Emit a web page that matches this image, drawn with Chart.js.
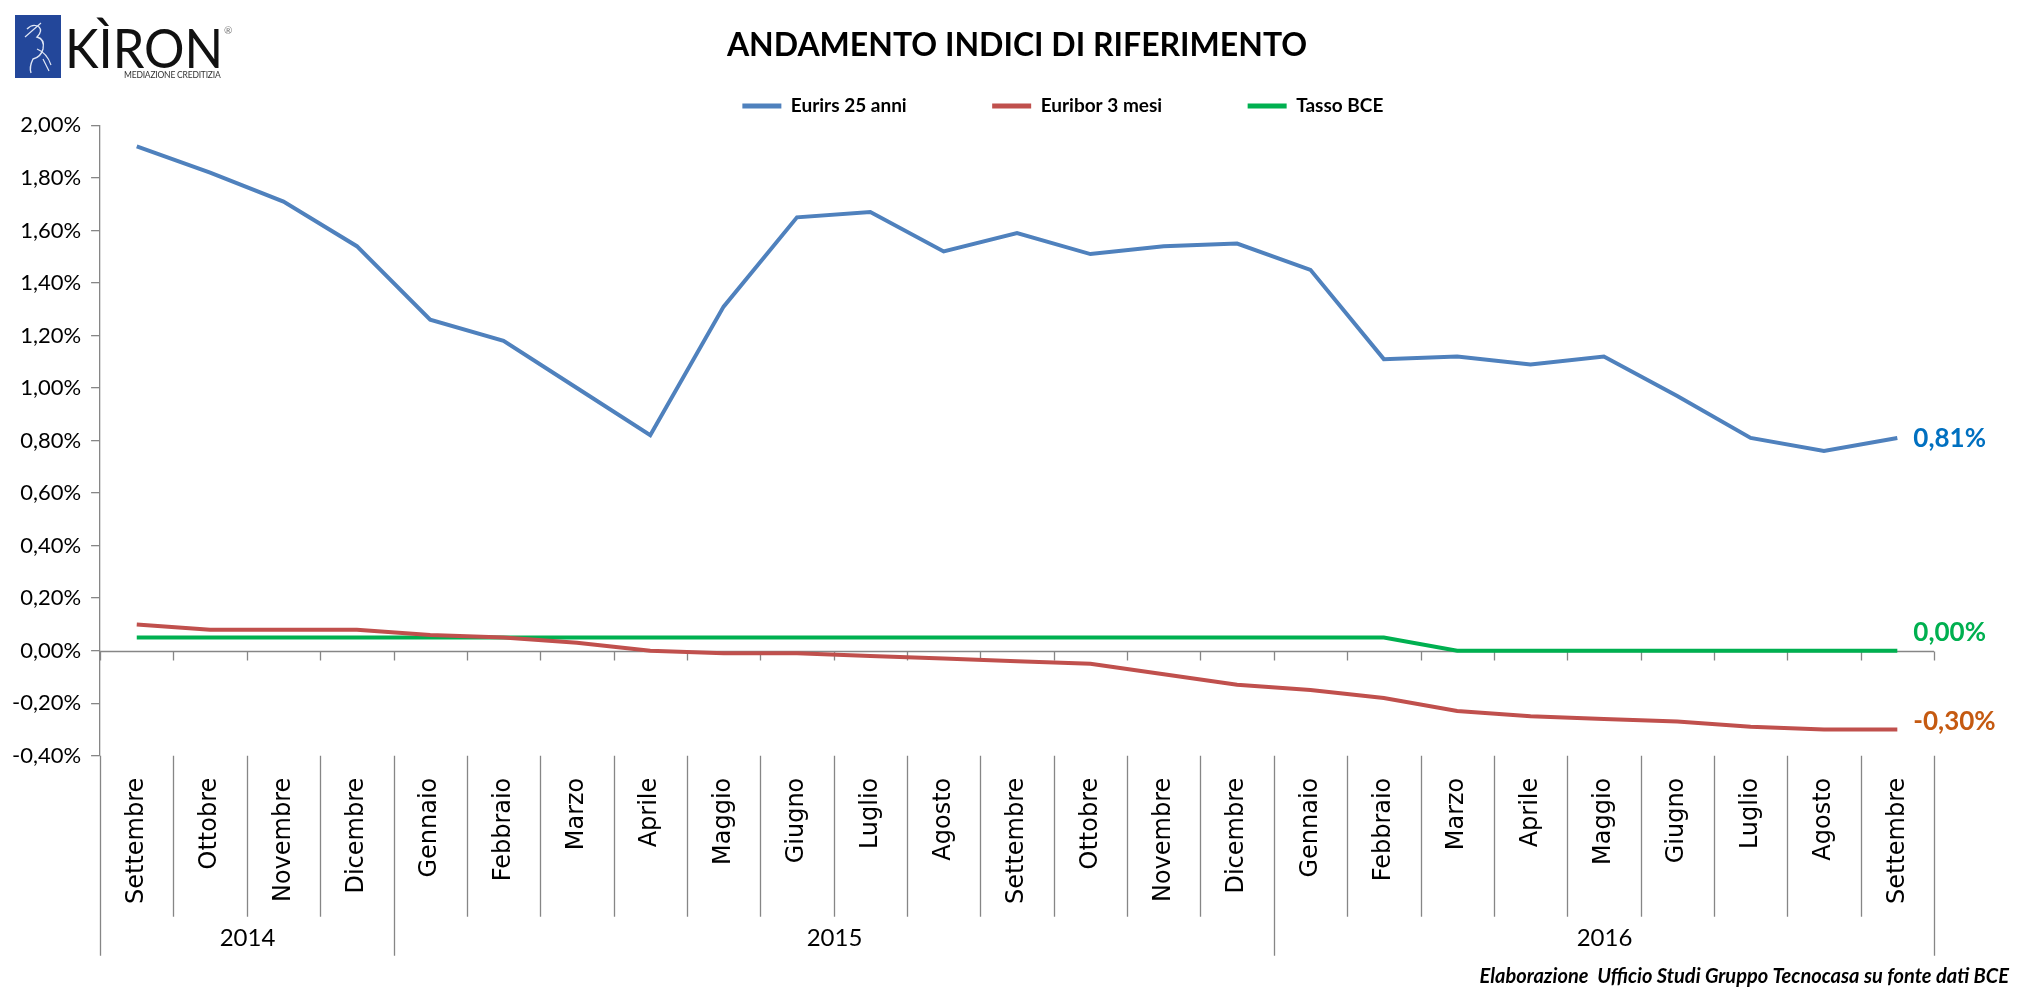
<!DOCTYPE html>
<html>
<head>
<meta charset="utf-8">
<script src="https://cdn.jsdelivr.net/npm/chart.js@4.4.0/dist/chart.umd.min.js"></script>
<style>
  body { margin: 0; background: #fff; }
  #wrap { position: relative; width: 2022px; height: 993px; }
  #logo { position: absolute; left: 15px; top: 15px; width: 240px; height: 66px; }
  #logo .mark { position: absolute; left: 0; top: 0; }
  #logo .name { position: absolute; left: 50px; top: 6px; font-family: Lato, sans-serif; font-size: 55px; color: #111; line-height: 52px; transform: scaleX(0.92); transform-origin: left top; }
  #logo .reg { position: absolute; left: 209px; top: 9px; font-family: Lato, sans-serif; font-size: 10px; color: #777; }
  #logo .sub { position: absolute; left: 109px; top: 55px; font-family: 'Liberation Sans Narrow', Lato, sans-serif; font-size: 8.5px; color: #333; letter-spacing: -0.2px; }
</style>
</head>
<body>
<div id="wrap">
  <div id="logo">
    <svg class="mark" width="46" height="63" viewBox="0 0 46 63">
      <rect width="46" height="63" fill="#23479a"/>
      <path d="M12 14 q6 -6 12 -2 q4 4 -2 10 q8 2 6 12 q-2 8 -10 10 q-4 8 -2 14" stroke="#dfe6f5" stroke-width="1.4" fill="none"/>
      <path d="M10 22 l16 -14 M22 34 q10 4 14 16 M28 44 l6 12" stroke="#dfe6f5" stroke-width="1.2" fill="none"/>
    </svg>
    <div class="name">KÌRON</div>
    <div class="reg">®</div>
    <div class="sub">MEDIAZIONE CREDITIZIA</div>
  </div>
  <canvas id="chart"></canvas>
</div>
<script>
// months on the x axis (Settembre 2014 -> Settembre 2016)
const months = ['Settembre', 'Ottobre', 'Novembre', 'Dicembre',
    'Gennaio', 'Febbraio', 'Marzo', 'Aprile', 'Maggio', 'Giugno', 'Luglio', 'Agosto',
    'Settembre', 'Ottobre', 'Novembre', 'Dicembre',
    'Gennaio', 'Febbraio', 'Marzo', 'Aprile', 'Maggio', 'Giugno', 'Luglio', 'Agosto', 'Settembre'];
const years = ['2014', '2015', '2016'];
const yearStarts = [0, 4, 16, 25];   // index where each year group begins (last = end)

const eurirs25 = [1.92, 1.82, 1.71, 1.54, 1.26, 1.18, 1.00, 0.82, 1.31, 1.65, 1.67, 1.52,
    1.59, 1.51, 1.54, 1.55, 1.45, 1.11, 1.12, 1.09, 1.12, 0.97, 0.81, 0.76, 0.81];
const euribor3m = [0.10, 0.08, 0.08, 0.08, 0.06, 0.05, 0.03, 0.00, -0.01, -0.01, -0.02, -0.03,
    -0.04, -0.05, -0.09, -0.13, -0.15, -0.18, -0.23, -0.25, -0.26, -0.27, -0.29, -0.30, -0.30];
const tassoBce = [0.05, 0.05, 0.05, 0.05, 0.05, 0.05, 0.05, 0.05, 0.05, 0.05, 0.05, 0.05,
    0.05, 0.05, 0.05, 0.05, 0.05, 0.05, 0.00, 0.00, 0.00, 0.00, 0.00, 0.00, 0.00];

const yMin = -0.4, yMax = 2.0, yStep = 0.2;

function pct(v) {
    if (Math.abs(v) < 1e-9) v = 0;
    return v.toFixed(2).replace('.', ',') + '%';
}

const AXIS_GREY = '#868686';
const GAP = '\u2003\u2003\u2003\u2003    ';   // widens the space after a legend entry

// axis decorations: 0% line with ticks, category separators, years, end labels, source
const decorations = {
    id: 'decorations',
    beforeDatasetsDraw(chart) {
        const ctx = chart.ctx, x = chart.scales.x, y = chart.scales.y, area = chart.chartArea;
        const step = x.getPixelForValue(1) - x.getPixelForValue(0);
        const y0 = Math.round(y.getPixelForValue(0)) + 0.5;
        ctx.save();
        ctx.strokeStyle = AXIS_GREY;
        ctx.lineWidth = 1.3;
        ctx.beginPath();
        ctx.moveTo(area.left, y0);
        ctx.lineTo(area.right, y0);
        for (let i = 0; i <= months.length; i++) {
            const bx = Math.round(x.getPixelForValue(0) - step / 2 + i * step) + 0.5;
            ctx.moveTo(bx, y0);
            ctx.lineTo(bx, y0 + 9);
        }
        ctx.stroke();
        ctx.restore();
    },
    afterDraw(chart) {
        const ctx = chart.ctx, x = chart.scales.x, y = chart.scales.y, area = chart.chartArea;
        const step = x.getPixelForValue(1) - x.getPixelForValue(0);
        const edge = i => Math.round(x.getPixelForValue(0) - step / 2 + i * step) + 0.5;
        ctx.save();
        ctx.strokeStyle = AXIS_GREY;
        ctx.lineWidth = 1.3;
        ctx.beginPath();
        for (let i = 0; i <= months.length; i++) {
            const isYear = yearStarts.includes(i);
            ctx.moveTo(edge(i), area.bottom);
            ctx.lineTo(edge(i), area.bottom + (isYear ? 200 : 161));
        }
        ctx.stroke();

        ctx.fillStyle = '#000';
        ctx.font = '24px Lato';
        ctx.textAlign = 'center';
        ctx.textBaseline = 'middle';
        years.forEach((yr, k) => {
            ctx.fillText(yr, (edge(yearStarts[k]) + edge(yearStarts[k + 1])) / 2, area.bottom + 183);
        });

        // end-of-series value labels
        const ends = [
            { data: eurirs25, color: '#0070C0', dy: 1 },
            { data: tassoBce, color: '#00B050', dy: -18 },
            { data: euribor3m, color: '#C55A11', dy: -8 }
        ];
        ctx.font = 'bold 26px Lato';
        ctx.textAlign = 'left';
        ends.forEach(e => {
            const last = e.data.length - 1;
            ctx.fillStyle = e.color;
            ctx.fillText(pct(e.data[last]), x.getPixelForValue(last) + 16, y.getPixelForValue(e.data[last]) + e.dy);
        });

        ctx.fillStyle = '#000';
        ctx.font = 'italic bold 20px Lato';
        ctx.textAlign = 'right';
        ctx.fillText('Elaborazione  Ufficio Studi Gruppo Tecnocasa su fonte dati BCE', 2009, 977);
        ctx.restore();
    }
};

new Chart(document.getElementById('chart'), {
    type: 'line',
    data: {
        labels: months,
        datasets: [
            { label: 'Eurirs 25 anni', data: eurirs25, borderColor: '#4F81BD', backgroundColor: '#4F81BD' },
            { label: 'Euribor 3 mesi', data: euribor3m, borderColor: '#C0504D', backgroundColor: '#C0504D' },
            { label: 'Tasso BCE', data: tassoBce, borderColor: '#00B050', backgroundColor: '#00B050' }
        ]
    },
    options: {
        responsive: true,
        maintainAspectRatio: false,
        animation: false,
        devicePixelRatio: 1,
        elements: {
            line: { borderWidth: 4, tension: 0 },
            point: { radius: 0, hoverRadius: 0 }
        },
        layout: { padding: { left: 2, right: 88, top: 2, bottom: 75 } },
        plugins: {
            title: {
                display: true,
                text: 'ANDAMENTO INDICI DI RIFERIMENTO',
                color: '#000',
                fullSize: false,
                font: { family: 'Lato', size: 32, weight: 'bold' },
                padding: { top: 24, bottom: 22 }
            },
            legend: {
                display: true,
                fullSize: false,
                labels: {
                    color: '#000',
                    boxWidth: 39,
                    boxHeight: 5,
                    padding: 10,
                    font: { family: 'Lato', size: 19, weight: 'bold' },
                    generateLabels(chart) {
                        const items = Chart.defaults.plugins.legend.labels.generateLabels(chart);
                        items.forEach((it, i) => {
                            it.lineWidth = 0;
                            if (i < items.length - 1) it.text += GAP;
                        });
                        // empty leading entry so the visible entries sit right of centre
                        items.unshift({ text: '\u2003\u2003 ', fillStyle: 'rgba(0,0,0,0)', strokeStyle: 'rgba(0,0,0,0)', lineWidth: 0, hidden: false, datasetIndex: -1 });
                        return items;
                    }
                }
            },
            tooltip: { enabled: false }
        },
        scales: {
            x: {
                offset: true,
                grid: { display: false },
                border: { display: false },
                ticks: {
                    autoSkip: false,
                    maxRotation: 90,
                    minRotation: 90,
                    padding: 14,
                    color: '#000',
                    font: { family: 'DejaVu Sans', size: 24 }
                }
            },
            y: {
                min: yMin,
                max: yMax,
                border: { display: true, color: AXIS_GREY, width: 1.3 },
                grid: { drawOnChartArea: false, drawTicks: true, tickLength: 9, color: AXIS_GREY, lineWidth: 1.3 },
                ticks: {
                    stepSize: yStep,
                    padding: 10,
                    color: '#000',
                    font: { family: 'Lato', size: 22 },
                    callback: v => pct(v)
                }
            }
        }
    },
    plugins: [decorations]
});
</script>
</body>
</html>
